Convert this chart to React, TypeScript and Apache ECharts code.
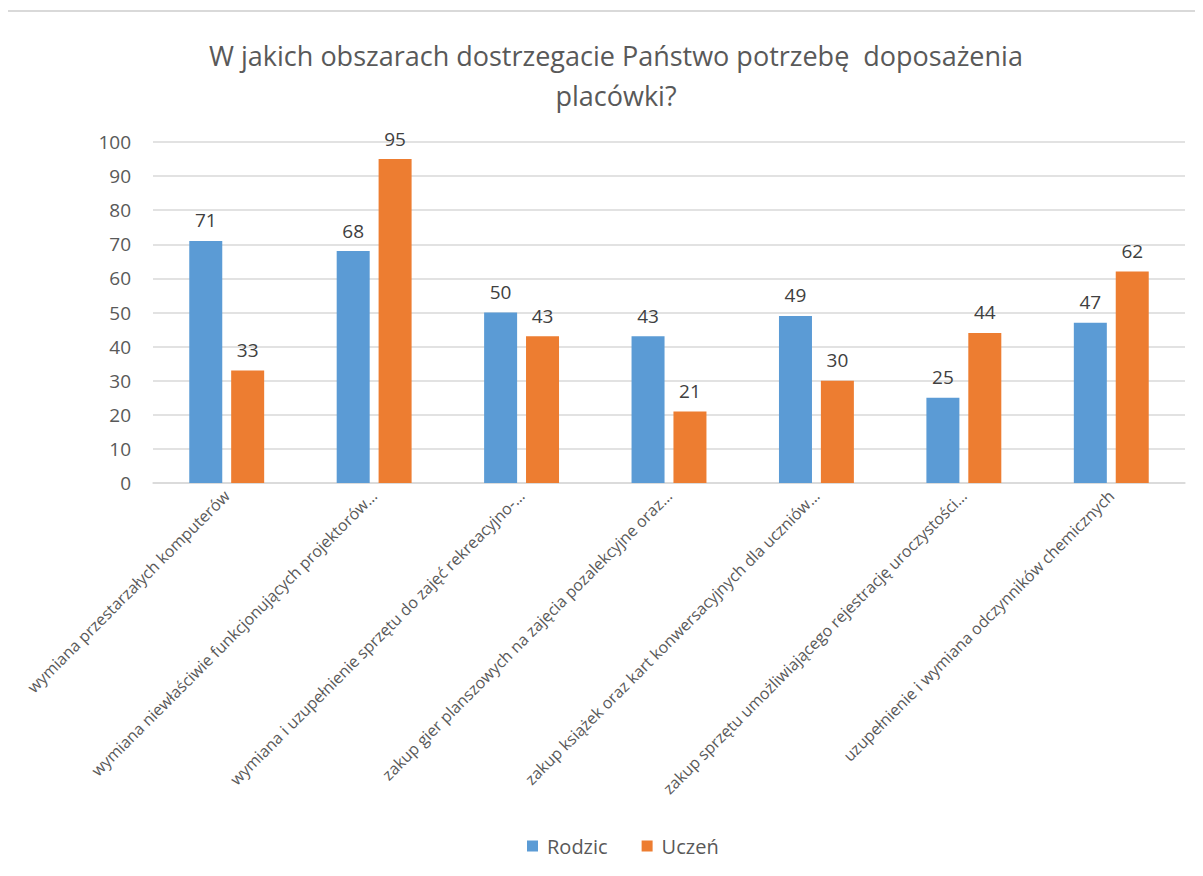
import React, { useEffect, useRef } from "react";
import * as echarts from "echarts";

const titleText = "W jakich obszarach dostrzegacie Państwo potrzebę  doposażenia\nplacówki?";
const categories = [
  "wymiana przestarzałych komputerów",
  "wymiana niewłaściwie funkcjonujących projektorów…",
  "wymiana i uzupełnienie sprzętu do zajęć rekreacyjno-…",
  "zakup gier planszowych na zajęcia pozalekcyjne oraz…",
  "zakup książek oraz kart konwersacyjnych dla uczniów…",
  "zakup sprzętu umożliwiającego rejestrację uroczystości…",
  "uzupełnienie i wymiana odczynników chemicznych",
];
const seriesNames = ["Rodzic", "Uczeń"];
const rodzic = [71, 68, 50, 43, 49, 25, 47];
const uczen = [33, 95, 43, 21, 30, 44, 62];
const colors = ["#5B9BD5", "#ED7D31"];

const FONT = "'Open Sans', 'Noto Sans', sans-serif";

export default function App() {
  const ref = useRef<HTMLDivElement>(null);
  useEffect(() => {
    if (!ref.current) return;
    const chart = echarts.init(ref.current, undefined, { renderer: "svg" });
    const labelCfg = {
      show: true,
      position: "top",
      distance: 11,
      color: "#404040",
      fontSize: 19,
      fontFamily: FONT,
    };
    chart.setOption({
      animation: false,
      backgroundColor: "#ffffff",
      title: {
        text: titleText,
        left: 611,
        top: 30,
        textAlign: "center",
        textStyle: {
          color: "#595959",
          fontSize: 27,
          fontWeight: "normal",
          fontFamily: FONT,
          lineHeight: 40,
        },
      },
      graphic: [
        {
          type: "polyline",
          shape: { points: [[7, 876], [7, 11], [1203, 11]] },
          style: { stroke: "#d9d9d9", lineWidth: 2, fill: "none" },
          silent: true,
        },
      ],
      legend: {
        data: seriesNames,
        left: 522,
        top: 831,
        itemWidth: 11,
        itemHeight: 11,
        itemGap: 34,
        icon: "rect",
        textStyle: {
          color: "#595959",
          fontSize: 20,
          fontFamily: FONT,
          padding: [0, 0, 0, 4],
        },
      },
      grid: { left: 153, right: 18, top: 142, bottom: 393 },
      xAxis: {
        type: "category",
        data: categories,
        axisLine: { show: true, lineStyle: { color: "#d9d9d9", width: 1.5 } },
        axisTick: { show: false },
        axisLabel: {
          rotate: 45,
          interval: 0,
          margin: 10,
          color: "#595959",
          fontSize: 16,
          fontFamily: FONT,
        },
      },
      yAxis: {
        type: "value",
        min: 0,
        max: 100,
        interval: 10,
        axisLine: { show: false },
        axisTick: { show: false },
        splitLine: { lineStyle: { color: "#d9d9d9", width: 1.5 } },
        axisLabel: {
          color: "#595959",
          fontSize: 19,
          fontFamily: FONT,
          margin: 22,
        },
      },
      series: [
        {
          name: seriesNames[0],
          type: "bar",
          data: rodzic,
          itemStyle: { color: colors[0] },
          barWidth: 33,
          barGap: "27%",
          label: labelCfg,
        },
        {
          name: seriesNames[1],
          type: "bar",
          data: uczen,
          itemStyle: { color: colors[1] },
          barWidth: 33,
          barGap: "27%",
          label: labelCfg,
        },
      ],
    });
    return () => chart.dispose();
  }, []);
  return <div ref={ref} style={{ width: 1203, height: 876, margin: -8 }} />;
}
